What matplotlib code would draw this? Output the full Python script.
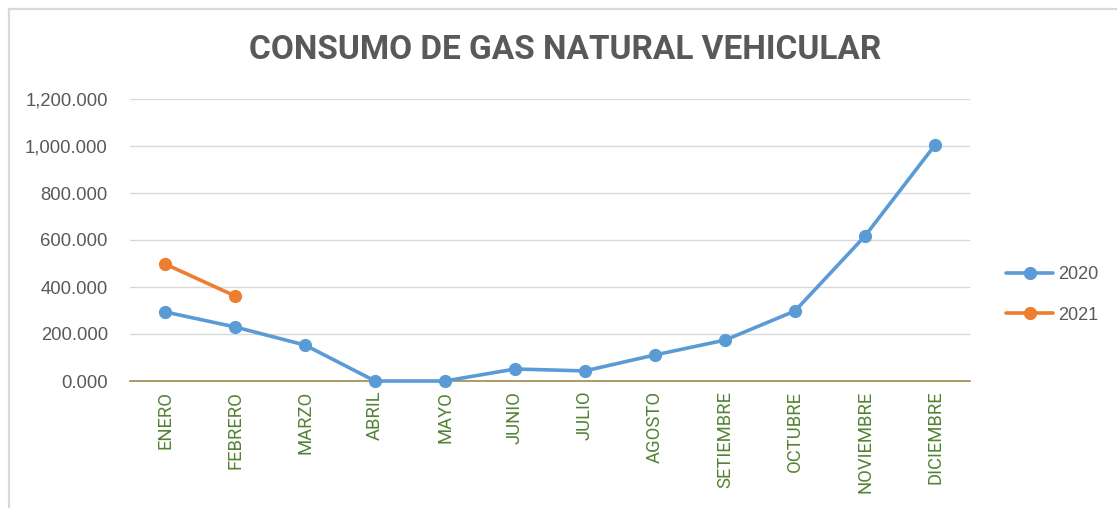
import matplotlib
matplotlib.use("Agg")
import matplotlib.pyplot as plt
from matplotlib.lines import Line2D

months = ["ENERO", "FEBRERO", "MARZO", "ABRIL", "MAYO", "JUNIO", "JULIO",
          "AGOSTO", "SETIEMBRE", "OCTUBRE", "NOVIEMBRE", "DICIEMBRE"]
vals_2020 = [294, 230, 153, 0, 0, 51, 43, 111, 174, 298, 617, 1004]
vals_2021 = [498, 362]
yticks = [0, 200, 400, 600, 800, 1000, 1200]
ytick_labels = ["0.000", "200.000", "400.000", "600.000", "800.000", "1,000.000", "1,200.000"]

W, H = 1117, 508
fig = plt.figure(figsize=(W / 100, H / 100), dpi=100)
ax = fig.add_axes([130 / W, (H - 381) / H, 840 / W, 282 / H])

x20 = list(range(len(vals_2020)))
x21 = list(range(len(vals_2021)))
ax.plot(x20, vals_2020, color="#5B9BD5", lw=2.6, marker="o", ms=8.5, label="2020",
        solid_capstyle="round", zorder=3, clip_on=False)
ax.plot(x21, vals_2021, color="#ED7D31", lw=2.6, marker="o", ms=8.5, label="2021",
        solid_capstyle="round", zorder=4, clip_on=False)

ax.set_xlim(-0.5, len(months) - 0.5)
ax.set_ylim(0, 1200)
ax.set_yticks(yticks)
ax.set_yticklabels(ytick_labels, fontsize=13.3, color="#595959", family="Liberation Sans")
ax.set_xticks(x20)
ax.set_xticklabels(months, rotation=90, fontsize=13.3, color="#548235", family="Roboto")
ax.tick_params(axis="both", length=0)
ax.tick_params(axis="y", pad=16)
ax.tick_params(axis="x", pad=7)
ax.grid(axis="y", color="#D9D9D9", lw=1)
ax.set_axisbelow(True)
for s in ["top", "right", "left"]:
    ax.spines[s].set_visible(False)
ax.spines["bottom"].set_color("#A08A4A")
ax.spines["bottom"].set_linewidth(1.2)
ax.spines["bottom"].set_zorder(2)

fig.text(565 / W, 1 - 50 / H, "CONSUMO DE GAS NATURAL VEHICULAR", ha="center", va="center",
         fontsize=24, fontweight="bold", color="#595959", family="Roboto")

leg = fig.legend(loc="center left", bbox_to_anchor=(990 / W, 1 - 295 / H), frameon=False,
                 labelcolor="#595959", handlelength=2.6, handletextpad=0.3,
                 labelspacing=1.3, prop={"family": "Liberation Sans", "size": 13})

fig.lines.append(Line2D([9.5 / W, 1], [1 - 8.5 / H, 1 - 8.5 / H], transform=fig.transFigure,
                        color="#D9D9D9", lw=1.6))
fig.lines.append(Line2D([9.5 / W, 9.5 / W], [0, 1 - 8.5 / H], transform=fig.transFigure,
                        color="#D9D9D9", lw=1.6))

fig.savefig("out.png", dpi=100)
